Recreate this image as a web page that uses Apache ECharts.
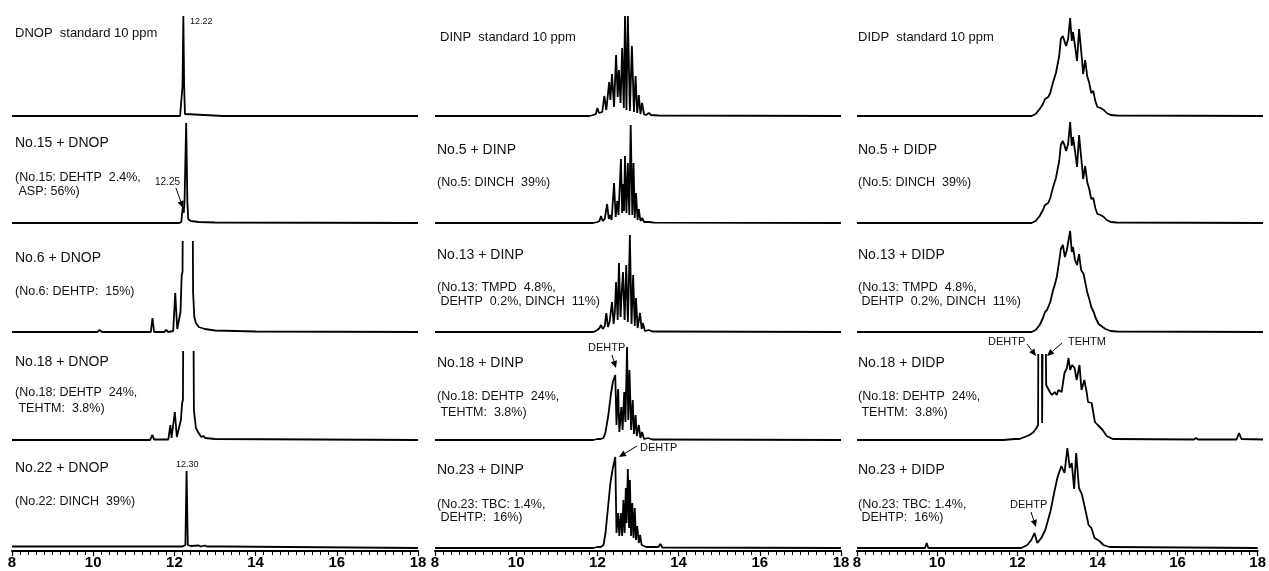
<!DOCTYPE html>
<html><head><meta charset="utf-8">
<script src="https://cdn.jsdelivr.net/npm/echarts@6/dist/echarts.min.js"></script>
<style>html,body{margin:0;padding:0;background:#fff}#c{width:1269px;height:571px}</style>
</head><body><div id="c"></div>
<script>
// ---------- DATA (retention time [min], relative response) ----------
const xTicks = [8, 10, 12, 14, 16, 18];

// Column 1 : DNOP
const dnopStd = [[8,0],[12.14,0],[12.18,2],[12.20,30],[12.22,100],[12.24,30],[12.26,2],[12.3,0.5],[13.2,0],[18,0]];
const dnopNo15 = [[8,0],[12.12,0],[12.17,1],[12.19,10],[12.21,16],[12.23,10],[12.25,22],[12.29,100],[12.32,20],[12.34,4],[12.4,2],[12.6,1],[13,0.5],[18,0]];
const dnopNo6 = [[8,0],[9.5,0],[10.1,0],[10.16,2],[10.22,0],[11.42,0],[11.46,14],[11.5,0],[11.75,0],[11.8,2],[11.85,0],[11.97,1],[12.02,39],[12.07,3],[12.1,2],[12.15,20],[12.18,57],[12.2,60],[12.23,300],[12.43,300],[12.46,40],[12.49,15],[12.53,9],[12.6,5],[12.75,3],[13,1.5],[14,0.5],[18,0]];
const dnopNo18 = [[8,0],[11.4,0],[11.46,5],[11.5,0.5],[11.85,0.5],[11.9,15],[11.93,2],[11.97,4],[12.01,28],[12.06,3],[12.1,3],[12.16,20],[12.19,37],[12.21,40],[12.24,300],[12.45,300],[12.48,30],[12.53,12],[12.58,8],[12.66,3],[12.71,4],[12.76,2],[13,1],[18,0]];
const dnopNo22 = [[8,1.5],[12.2,1.5],[12.27,3],[12.3,77],[12.33,3],[12.4,2],[12.6,2.5],[12.65,1.5],[12.75,2.5],[12.8,1.5],[13.2,1.5],[13.22,0],[18,0]];

// Column 2 : DINP
const dinpStd = [[8,0],[11.8,0],[11.9,1],[11.96,2],[12.0,8],[12.04,3],[12.08,5],[12.12,4],[12.17,20],[12.22,6],[12.29,34],[12.32,16],[12.36,42],[12.41,9],[12.46,61],[12.5,19],[12.53,46],[12.57,13],[12.61,68],[12.65,8],[12.68,100],[12.715,6],[12.75,100],[12.8,5],[12.85,70],[12.9,4],[12.94,40],[12.98,3],[13.02,21],[13.06,2],[13.1,13],[13.15,1.5],[13.2,1],[13.27,3],[13.32,1],[13.5,0.5],[18,0]];
const dinpNo5 = [[8,0],[11.9,0],[12.0,1],[12.05,2],[12.09,7],[12.13,2],[12.18,4],[12.24,19],[12.28,4],[12.31,8],[12.35,3],[12.41,40],[12.45,6],[12.49,22],[12.52,8],[12.58,64],[12.61,10],[12.63,39],[12.655,12],[12.68,67],[12.715,10],[12.75,60],[12.785,8],[12.82,98],[12.86,8],[12.89,60],[12.92,5],[12.95,30],[12.99,3],[13.02,14],[13.06,2],[13.1,5],[13.15,1],[13.27,1],[13.4,0.3],[18,0]];
const dinpNo13 = [[8,0],[11.9,0],[12.0,2],[12.05,4],[12.09,7],[12.13,3],[12.18,6],[12.22,19],[12.26,5],[12.3,10],[12.36,30],[12.4,8],[12.43,20],[12.46,50],[12.5,12],[12.53,69],[12.57,15],[12.6,40],[12.63,60],[12.67,12],[12.71,67],[12.75,10],[12.77,40],[12.8,97],[12.84,8],[12.88,57],[12.92,6],[12.95,34],[12.99,4],[13.05,19],[13.09,3],[13.12,9],[13.17,1],[13.27,2],[13.35,0.5],[18,0]];
const dinpNo18 = [[8,0],[11.9,0],[12.0,1],[12.04,3],[12.08,1],[12.15,2],[12.2,8],[12.27,25],[12.33,45],[12.38,58],[12.44,65],[12.47,15],[12.51,51],[12.54,8],[12.59,33],[12.62,10],[12.66,48],[12.69,18],[12.73,93],[12.76,20],[12.79,70],[12.83,10],[12.87,40],[12.9,6],[12.94,25],[12.97,4],[13.02,15],[13.06,2],[13.1,8],[13.15,1],[13.25,2],[13.35,0.5],[18,0]];
const dinpNo23 = [[8,0],[11.9,0],[12.0,1],[12.04,3],[12.08,1],[12.15,3],[12.2,15],[12.26,40],[12.32,65],[12.38,80],[12.44,91],[12.47,15],[12.51,35],[12.54,12],[12.58,35],[12.61,12],[12.64,48],[12.67,15],[12.7,60],[12.72,25],[12.75,79],[12.78,20],[12.8,68],[12.83,12],[12.86,45],[12.89,10],[12.92,40],[12.95,8],[12.98,22],[13.02,5],[13.05,13],[13.09,3],[13.13,5],[13.2,1],[13.5,1],[13.55,4],[13.6,0.5],[18,0]];

// Column 3 : DIDP
const didpStd = [[8,0],[12.3,0],[12.4,2],[12.5,7],[12.58,12],[12.63,17],[12.67,16],[12.71,19],[12.76,23],[12.83,34],[12.9,43],[12.93,45],[12.98,60],[13.02,77],[13.07,80],[13.1,78],[13.15,70],[13.2,77],[13.25,98],[13.29,75],[13.32,84],[13.37,70],[13.42,55],[13.47,87],[13.51,70],[13.54,57],[13.57,42],[13.62,56],[13.67,40],[13.72,33],[13.77,23],[13.82,25],[13.87,15],[13.92,9],[14.0,8],[14.04,10],[14.08,6],[14.15,3],[14.25,1],[14.4,0.5],[18,0]];
const didpNo5 = [[8,0],[12.3,0],[12.4,2],[12.5,7],[12.58,13],[12.63,18],[12.67,17],[12.71,20],[12.76,25],[12.83,36],[12.9,45],[12.93,47],[12.98,62],[13.02,78],[13.07,82],[13.1,79],[13.15,72],[13.2,79],[13.25,101],[13.29,77],[13.32,86],[13.37,72],[13.42,56],[13.47,88],[13.51,70],[13.54,58],[13.57,44],[13.62,57],[13.67,41],[13.72,34],[13.77,24],[13.82,25],[13.87,15],[13.92,9],[14.0,8],[14.04,10],[14.08,6],[14.15,3],[14.25,1],[14.4,0.5],[18,0]];
const didpNo13 = [[8,0],[12.3,0],[12.4,2],[12.5,7],[12.58,14],[12.63,20],[12.68,22],[12.71,25],[12.76,30],[12.83,42],[12.87,47],[12.92,55],[12.97,68],[13.02,83],[13.07,87],[13.12,75],[13.17,82],[13.25,101],[13.29,80],[13.32,85],[13.37,72],[13.42,67],[13.47,78],[13.52,62],[13.58,58],[13.62,58],[13.67,40],[13.72,33],[13.77,25],[13.83,20],[13.88,14],[13.95,8],[14.05,5],[14.12,3],[14.25,1],[14.4,0.5],[18,0]];
const didpNo18 = [[8,0],[11.6,0],[11.88,1],[12.0,1],[12.13,3],[12.25,5],[12.35,8],[12.42,12],[12.46,15],[12.48,300],[12.54,300],[12.56,17],[12.58,17],[12.6,300],[12.63,300],[12.66,55],[12.75,48],[12.8,45],[12.87,48],[12.92,45],[12.96,50],[13.04,48],[13.11,67],[13.17,72],[13.21,82],[13.25,70],[13.3,75],[13.36,72],[13.41,60],[13.48,75],[13.53,50],[13.6,60],[13.66,47],[13.69,38],[13.78,37],[13.86,18],[13.93,15],[14.05,10],[14.15,4],[14.3,1],[16.3,0.5],[16.35,2],[16.4,0.5],[17.35,0.5],[17.41,7],[17.47,1],[18,0.5]];
const didpNo23 = [[8,0],[9.7,0],[9.74,5],[9.78,0],[12.1,0],[12.25,3],[12.35,8],[12.43,15],[12.5,5],[12.6,10],[12.7,18],[12.74,20],[12.83,37],[12.93,57],[13.0,70],[13.1,82],[13.18,75],[13.25,100],[13.31,80],[13.36,85],[13.42,59],[13.47,95],[13.54,60],[13.61,54],[13.69,40],[13.78,23],[13.85,20],[13.93,10],[14.05,7],[14.15,3],[14.3,1],[18,0]];

const traces = [
  [dnopStd, dinpStd, didpStd],
  [dnopNo15, dinpNo5, didpNo5],
  [dnopNo6, dinpNo13, didpNo13],
  [dnopNo18, dinpNo18, didpNo18],
  [dnopNo22, dinpNo23, didpNo23]
];

const titles = [
  ["DNOP  standard 10 ppm", "DINP  standard 10 ppm", "DIDP  standard 10 ppm"],
  ["No.15 + DNOP", "No.5 + DINP", "No.5 + DIDP"],
  ["No.6 + DNOP", "No.13 + DINP", "No.13 + DIDP"],
  ["No.18 + DNOP", "No.18 + DINP", "No.18 + DIDP"],
  ["No.22 + DNOP", "No.23 + DINP", "No.23 + DIDP"]
];
const notes = [
  [[], [], []],
  [["(No.15: DEHTP  2.4%,", " ASP: 56%)"], ["(No.5: DINCH  39%)"], ["(No.5: DINCH  39%)"]],
  [["(No.6: DEHTP:  15%)"], ["(No.13: TMPD  4.8%,", " DEHTP  0.2%, DINCH  11%)"], ["(No.13: TMPD  4.8%,", " DEHTP  0.2%, DINCH  11%)"]],
  [["(No.18: DEHTP  24%,", " TEHTM:  3.8%)"], ["(No.18: DEHTP  24%,", " TEHTM:  3.8%)"], ["(No.18: DEHTP  24%,", " TEHTM:  3.8%)"]],
  [["(No.22: DINCH  39%)"], ["(No.23: TBC: 1.4%,", " DEHTP:  16%)"], ["(No.23: TBC: 1.4%,", " DEHTP:  16%)"]]
];

// ---------- LAYOUT ----------
const colX0 = [12, 435, 857];     // pixel of x = 8
const colW = 406;                 // 8 -> 18
const baseY = [116, 223, 332, 440, 548];
const panelTop = [               // visible height above baseline (px == response units)
  [110, 110, 110],
  [110, 110, 110],
  [90, 110, 110],
  [88, 110, 85],
  [110, 110, 110]
];
const titleY = [[33, 37, 37], [143, 150, 150], [258, 255, 255], [362, 363, 363], [468, 470, 470]];
const noteY = [[[], [], []], [[178, 192], [183], [183]], [[292], [288, 302], [288, 302]], [[393, 409], [397, 413], [397, 413]], [[502], [505, 518], [505, 518]]];
const textX = [[15, 440, 858], [15, 437, 858]];

const FONT = '"Liberation Sans", Arial, sans-serif';
const grids = [], xAxes = [], yAxes = [], series = [], graphics = [];
let gi = 0;
for (let r = 0; r < 5; r++) {
  for (let c = 0; c < 3; c++) {
    const h = panelTop[r][c];
    grids.push({left: colX0[c], width: colW, top: baseY[r] - h, height: h});
    const bottom = r === 4;
    xAxes.push({
      type: 'value', gridIndex: gi, min: 8, max: 18, interval: 2,
      show: bottom, offset: 3,
      axisLine: {onZero: false, lineStyle: {color: '#000', width: 2}},
      axisTick: {show: true, length: 5, lineStyle: {color: '#000', width: 1.2}},
      minorTick: {show: true, splitNumber: 10, length: 4, lineStyle: {color: '#000', width: 1}},
      splitLine: {show: false}, minorSplitLine: {show: false},
      axisLabel: {show: bottom, color: '#000', fontFamily: FONT, fontWeight: 'bold', fontSize: 15, margin: 4, showMinLabel: true, showMaxLabel: true}
    });
    yAxes.push({type: 'value', gridIndex: gi, min: 0, max: h, show: false});
    series.push({
      type: 'line', xAxisIndex: gi, yAxisIndex: gi, data: traces[r][c],
      showSymbol: false, symbol: 'none', clip: true, animation: false,
      lineStyle: {color: '#000', width: 1.8}
    });
    const tx = textX[r === 0 ? 0 : 1][c];
    graphics.push({type: 'text', style: {text: titles[r][c], x: tx, y: titleY[r][c], font: (r === 0 ? '13px ' : '14px ') + FONT, fill: '#111', verticalAlign: 'middle'}});
    notes[r][c].forEach((t, k) => {
      graphics.push({type: 'text', style: {text: t, x: tx, y: noteY[r][c][k], font: '12.5px ' + FONT, fill: '#111', verticalAlign: 'middle'}});
    });
    gi++;
  }
}

// ---------- ANNOTATIONS ----------
function label(t, x, y, size) {
  graphics.push({type: 'text', style: {text: t, x: x, y: y, font: size + 'px ' + FONT, fill: '#111', verticalAlign: 'middle'}});
}
function arrow(x1, y1, x2, y2) {
  const dx = x2 - x1, dy = y2 - y1, L = Math.hypot(dx, dy), ux = dx / L, uy = dy / L;
  const hl = 7, hw = 3.2;
  const bx = x2 - ux * hl, by = y2 - uy * hl;
  graphics.push({type: 'line', shape: {x1: x1, y1: y1, x2: bx, y2: by}, style: {stroke: '#000', lineWidth: 1}});
  graphics.push({type: 'polygon', shape: {points: [[x2, y2], [bx - uy * hw, by + ux * hw], [bx + uy * hw, by - ux * hw]]}, style: {fill: '#000'}});
}
label('12.22', 190, 22, 9);
label('12.25', 155, 182, 10);
arrow(176, 188, 183, 208);
label('12.30', 176, 465, 9);
label('DEHTP', 588, 348, 11);
arrow(612, 355, 616, 368);
label('DEHTP', 640, 448, 11);
arrow(637, 446, 619, 457);
label('DEHTP', 988, 342, 11);
arrow(1027, 344, 1036, 356);
label('TEHTM', 1068, 342, 11);
arrow(1062, 343, 1047, 356);
label('DEHTP', 1010, 505, 11);
arrow(1031, 512, 1036, 527);

const chart = echarts.init(document.getElementById('c'), null, {renderer: 'canvas'});
chart.setOption({
  animation: false, backgroundColor: '#fff',
  grid: grids, xAxis: xAxes, yAxis: yAxes, series: series, graphic: graphics
});
</script></body></html>
